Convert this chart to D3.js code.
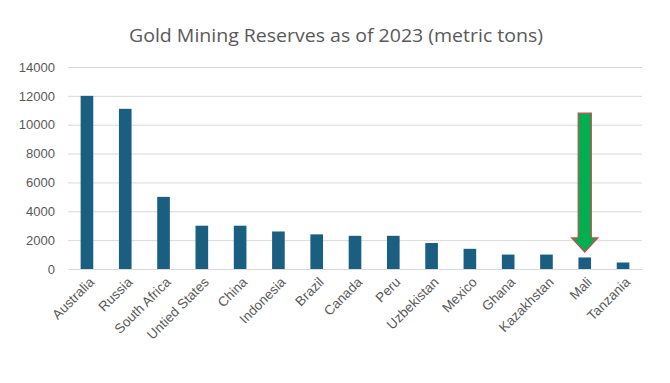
<!DOCTYPE html>
<html><head><meta charset="utf-8">
<script src="https://cdn.jsdelivr.net/npm/d3@7"></script>
<style>body{margin:0;background:#fff}svg{display:block}</style>
</head><body>
<svg id="c" width="670" height="383"></svg>
<script>
const categories = ["Australia","Russia","South Africa","Untied States","China","Indonesia","Brazil","Canada","Peru","Uzbekistan","Mexico","Ghana","Kazakhstan","Mali","Tanzania"];
const reserves = [12000,11100,5000,3000,3000,2600,2400,2300,2300,1800,1400,1000,1000,800,450];
const yTicks = [0,2000,4000,6000,8000,10000,12000,14000];
const arrowCategory = "Mali";
const arrowFrom = 10800;
const arrowTo = 1180;
const title = "Gold Mining Reserves as of 2023 (metric tons)";

const svg = d3.select("#c");
const font = "'Open Sans', 'Noto Sans', sans-serif";
const labelFont = "'Liberation Sans', Arial, sans-serif";
const textColor = "#595959";
const m = {left:68, right:642, top:67, bottom:269};

const x = d3.scaleBand().domain(categories).range([m.left, m.right]).paddingInner(0.67).paddingOuter(0.33);
const y = d3.scaleLinear().domain([0,14000]).range([m.bottom, m.top]);

svg.append("text").attr("x",336).attr("y",42).attr("text-anchor","middle")
  .attr("font-family",font).attr("font-size",18.5).attr("fill",textColor)
  .attr("textLength",414).attr("lengthAdjust","spacingAndGlyphs").text(title);

// gridlines + y axis
const ya = svg.append("g").attr("transform",`translate(${m.left},0)`)
  .call(d3.axisLeft(y).tickValues(yTicks).tickSize(-(m.right-m.left)).tickPadding(13).tickFormat(d3.format("d")));
ya.select(".domain").remove();
ya.selectAll(".tick line").attr("stroke","#d9d9d9").attr("stroke-width",1);
ya.selectAll(".tick text").attr("font-family",labelFont).attr("font-size",13).attr("fill",textColor);

// bars
svg.append("g").selectAll("rect").data(categories).join("rect")
  .attr("x",d=>x(d)).attr("width",x.bandwidth())
  .attr("y",(d,i)=>y(reserves[i])).attr("height",(d,i)=>y(0)-y(reserves[i]))
  .attr("fill","#1a5e80");

// x axis
const xa = svg.append("g").attr("transform",`translate(0,${m.bottom})`)
  .call(d3.axisBottom(x).tickSize(0).tickPadding(0));
xa.select(".domain").attr("stroke","#d9d9d9");
xa.selectAll(".tick text").attr("font-family",labelFont).attr("font-size",13.5).attr("fill",textColor)
  .attr("text-anchor","end").attr("dy",null)
  .attr("transform","translate(8,14) rotate(-45)");

// arrow annotation
const cx = x(arrowCategory) + x.bandwidth()/2;
const yt = y(arrowFrom), yb = y(arrowTo);
const sw = 6.5, hw = 13, hh = 14;
const pts = [[cx-sw,yt],[cx+sw,yt],[cx+sw,yb-hh],[cx+hw,yb-hh],[cx,yb],[cx-hw,yb-hh],[cx-sw,yb-hh]];
svg.append("path").attr("d", d3.line()(pts)+"Z")
  .attr("fill","#00b050").attr("stroke","#c0504d").attr("stroke-width",1.3).attr("stroke-linejoin","miter");
</script>
</body></html>
